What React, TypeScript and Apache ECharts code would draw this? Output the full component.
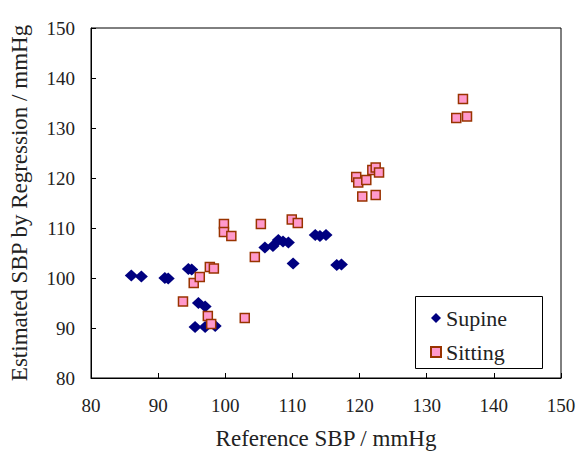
import React, { useEffect, useRef } from "react";
import * as echarts from "echarts";

const supine: [number, number][] = [
  [86.0, 100.5], [87.5, 100.3], [91.0, 100.0], [91.5, 99.9],
  [94.5, 101.8], [95.0, 101.7], [96.0, 95.0], [97.0, 94.3],
  [95.5, 90.2], [97.0, 90.2], [98.5, 90.4],
  [105.9, 106.1], [107.1, 106.4], [107.9, 107.6], [108.6, 107.3], [109.4, 107.1],
  [110.1, 102.9], [113.4, 108.6], [114.1, 108.4], [115.0, 108.6],
  [116.6, 102.6], [117.3, 102.7],
];

const sitting: [number, number][] = [
  [93.7, 95.3], [95.3, 99.0], [96.2, 100.2], [97.7, 102.2], [98.3, 101.9],
  [97.4, 92.4], [97.9, 90.8], [99.8, 110.8], [99.8, 109.2], [100.9, 108.4],
  [102.9, 92.0], [104.4, 104.2], [105.3, 110.8], [109.9, 111.7], [110.8, 111.0],
  [119.5, 120.2], [119.8, 119.1], [121.0, 119.6], [120.4, 116.3], [121.9, 121.6],
  [122.4, 122.1], [122.9, 121.1], [122.4, 116.6], [134.4, 132.0], [135.4, 135.8],
  [136.0, 132.3],
];

const xTitle = "Reference SBP / mmHg";
const yTitle = "Estimated SBP by Regression / mmHg";
const seriesNames = ["Supine", "Sitting"];

const FONT = "'Liberation Serif', 'Times New Roman', serif";

export default function App() {
  const ref = useRef<HTMLDivElement>(null);
  useEffect(() => {
    if (!ref.current) return;
    const chart = echarts.init(ref.current, null, { renderer: "svg" });
    const axisCommon = {
      type: "value" as const,
      min: 80,
      max: 150,
      interval: 10,
      nameLocation: "middle" as const,
      nameTextStyle: { fontFamily: FONT, fontSize: 23, color: "#222" },
      axisLine: { show: true, lineStyle: { color: "#000", width: 1 } },
      axisTick: { show: true, inside: true, length: 5, lineStyle: { color: "#000" } },
      axisLabel: { fontFamily: FONT, fontSize: 19, color: "#222" },
      splitLine: { show: false },
    };
    chart.setOption({
      animation: false,
      backgroundColor: "#fff",
      grid: {
        left: 91,
        top: 28,
        right: 18,
        bottom: 75,
        show: true,
        borderColor: "#000",
        borderWidth: 1,
        backgroundColor: "transparent",
      },
      xAxis: {
        ...axisCommon,
        name: xTitle,
        nameGap: 49,
        axisLabel: { ...axisCommon.axisLabel, margin: 18 },
      },
      yAxis: {
        ...axisCommon,
        name: yTitle,
        nameGap: 60,
        axisLabel: { ...axisCommon.axisLabel, margin: 16 },
      },
      graphic: [
        {
          type: "rect",
          shape: { x: 415.5, y: 296.5, width: 127, height: 72 },
          style: { fill: "#fff", stroke: "#000", lineWidth: 1 },
          z: 10,
        },
      ],
      legend: {
        orient: "vertical",
        left: 425,
        top: 302,
        itemWidth: 10,
        itemHeight: 10,
        itemGap: 12,
        z: 20,
        textStyle: { fontFamily: FONT, fontSize: 22, color: "#222", padding: [0, 0, 0, 0] },
        data: [
          { name: seriesNames[0], icon: "diamond" },
          { name: seriesNames[1], icon: "rect" },
        ],
      },
      series: [
        {
          name: seriesNames[0],
          type: "scatter",
          data: supine,
          symbol: "diamond",
          symbolSize: [13, 12],
          itemStyle: { color: "#000080", opacity: 1 },
        },
        {
          name: seriesNames[1],
          type: "scatter",
          data: sitting,
          symbol: "rect",
          symbolSize: 9,
          itemStyle: { color: "#FF99CC", borderColor: "#993300", borderWidth: 1.5, opacity: 1 },
        },
      ],
    });
    return () => chart.dispose();
  }, []);
  return (
    <div
      ref={ref}
      style={{ position: "absolute", left: 0, top: 0, width: 579, height: 455 }}
    />
  );
}
